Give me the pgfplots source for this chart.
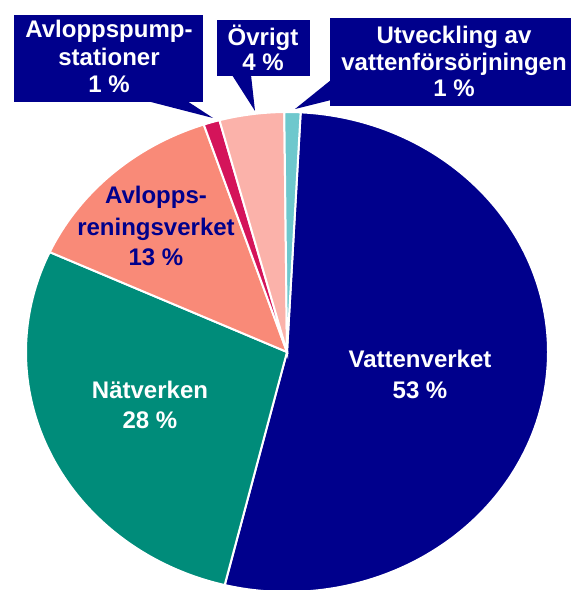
\documentclass[border=0pt]{standalone}
\usepackage{pgfplots}
\pgfplotsset{compat=1.18}
\usepackage{fontspec}
\setmainfont{Liberation Sans}
\definecolor{navy}{RGB}{0,0,140}
\definecolor{teal2}{RGB}{0,140,122}
\definecolor{salmon2}{RGB}{249,138,120}
\definecolor{crimson2}{RGB}{212,20,90}
\definecolor{pink2}{RGB}{251,178,170}
\definecolor{lblue}{RGB}{110,200,205}
\begin{document}
\begin{tikzpicture}[lab/.style={font=\fontsize{24bp}{27bp}\selectfont\bfseries, anchor=base, inner sep=0pt}]
\begin{axis}[name=ax, width=571bp, height=590bp, scale only axis,
  xmin=0, xmax=571, ymin=0, ymax=590, y dir=reverse, hide axis, clip=true]
% pie: start angle 87 deg, clockwise; values in percent
\addplot[fill=navy, draw=white, line width=2bp, domain={87-3.6*53}:{87}, samples=150, variable=\t]
  ({287+261*cos(t)},{352-240*sin(t)}) -- (287,352) -- cycle;
\addplot[fill=teal2, draw=white, line width=2bp, domain={87-3.6*(53+28)}:{87-3.6*53}, samples=100, variable=\t]
  ({287+261*cos(t)},{352-240*sin(t)}) -- (287,352) -- cycle;
\addplot[fill=salmon2, draw=white, line width=2bp, domain={87-3.6*(53+28+13)}:{87-3.6*(53+28)}, samples=60, variable=\t]
  ({287+261*cos(t)},{352-240*sin(t)}) -- (287,352) -- cycle;
\addplot[fill=crimson2, draw=white, line width=2bp, domain={87-3.6*(53+28+13+1)}:{87-3.6*(53+28+13)}, samples=10, variable=\t]
  ({287+261*cos(t)},{352-240*sin(t)}) -- (287,352) -- cycle;
\addplot[fill=pink2, draw=white, line width=2bp, domain={87-3.6*(53+28+13+1+4)}:{87-3.6*(53+28+13+1)}, samples=20, variable=\t]
  ({287+261*cos(t)},{352-240*sin(t)}) -- (287,352) -- cycle;
\addplot[fill=lblue, draw=white, line width=2bp, domain={87-3.6*(53+28+13+1+4+1)}:{87-3.6*(53+28+13+1+4)}, samples=10, variable=\t]
  ({287+261*cos(t)},{352-240*sin(t)}) -- (287,352) -- cycle;
% callout boxes
\fill[navy] (14,15) rectangle (203,102);
\fill[navy] (147,101) -- (213,118) -- (187,101) -- cycle;
\fill[navy] (217,20) rectangle (310,76);
\fill[navy] (232,75) -- (255,111) -- (251,75) -- cycle;
\fill[navy] (330,18) rectangle (571,106);
\fill[navy] (331,80) -- (295,109) -- (331,100) -- cycle;
% box texts
\node[lab, white] at (109,38) {Avloppspump-};
\node[lab, white] at (109,66) {stationer};
\node[lab, white] at (109,93) {1 \%};
\node[lab, white] at (263,46) {Övrigt};
\node[lab, white] at (263,71) {4 \%};
\node[lab, white] at (454,44) {Utveckling av};
\node[lab, white] at (454,71) {vattenförsörjningen};
\node[lab, white] at (454,97) {1 \%};
% slice labels
\node[lab, white] at (420,367) {Vattenverket};
\node[lab, white] at (420,398) {53 \%};
\node[lab, white] at (150,398) {Nätverken};
\node[lab, white] at (150,428) {28 \%};
\node[lab, navy] at (156,203) {Avlopps-};
\node[lab, navy] at (156,235) {reningsverket};
\node[lab, navy] at (156,265) {13 \%};
\end{axis}
\pgfresetboundingbox
\path (ax.south west) rectangle (ax.north east);
\end{tikzpicture}
\end{document}
